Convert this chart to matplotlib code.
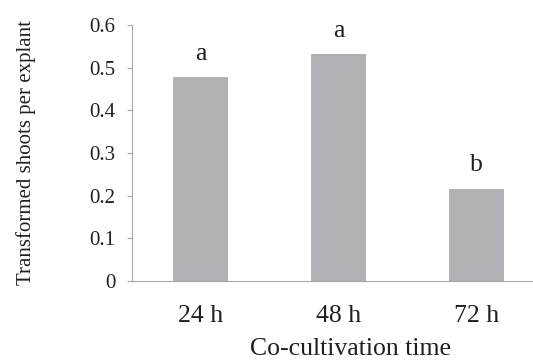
import matplotlib
matplotlib.use("Agg")
import matplotlib.pyplot as plt

categories = ["24 h", "48 h", "72 h"]
values = [0.478, 0.531, 0.216]
letters = ["a", "a", "b"]
yticks = [0, 0.1, 0.2, 0.3, 0.4, 0.5, 0.6]
ytick_labels = ["0", "0.1", "0.2", "0.3", "0.4", "0.5", "0.6"]

plt.rcParams["font.family"] = ["Liberation Serif", "DejaVu Serif"]
text_color = "#231f20"
axis_color = "#a6a6a6"
bar_color = "#b1b2b6"

W, H = 533, 361
fig = plt.figure(figsize=(W / 100, H / 100), dpi=100)
ax = fig.add_axes([132 / W, (H - 281) / H, (545 - 132) / W, 256 / H])

x = list(range(len(categories)))
ax.bar(x, values, width=0.4, color=bar_color, zorder=2)

ax.set_xlim(-0.5, 2.5)
ax.set_ylim(0, 0.6)
ax.set_yticks(yticks)
ax.set_yticklabels(ytick_labels)
ax.set_xticks(x)
ax.set_xticklabels(categories)

for s in ["top", "right"]:
    ax.spines[s].set_visible(False)
for s in ["left", "bottom"]:
    ax.spines[s].set_color(axis_color)
    ax.spines[s].set_linewidth(0.8)

ax.tick_params(axis="y", length=3.6, width=0.8, color=axis_color, pad=8.4,
               labelsize=15, labelcolor=text_color)
ax.tick_params(axis="x", length=0, pad=17, labelsize=18.5, labelcolor=text_color)

for xi, v, l in zip(x, values, letters):
    ax.annotate(l, xy=(xi, v), xytext=(0, 12.6), textcoords="offset points",
                ha="center", va="baseline", fontsize=18.5, color=text_color)

fig.text(350 / W, 1 - 355 / H, "Co-cultivation time", ha="center", va="baseline",
         fontsize=18.5, color=text_color)
fig.text(26 / W, 1 - 152.5 / H, "Transformed shoots per explant", ha="center",
         va="center", rotation=90, fontsize=15, color=text_color)

fig.savefig("out.png", dpi=100)
